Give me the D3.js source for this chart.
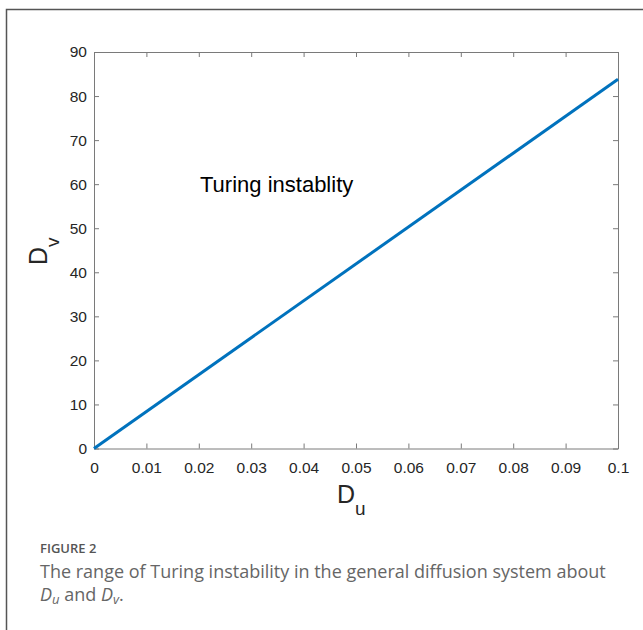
<!DOCTYPE html>
<html>
<head>
<meta charset="utf-8">
<script src="https://cdn.jsdelivr.net/npm/d3@7"></script>
<style>
  body { margin: 0; background: #fff; }
  svg { display: block; }
</style>
</head>
<body>
<div id="chart"></div>
<script>
// boundary of the Turing region, Dv against Du
const du = [0, 0.1];
const dv = [0, 83.8];

const xTicks = [0, 0.01, 0.02, 0.03, 0.04, 0.05, 0.06, 0.07, 0.08, 0.09, 0.1];
const yTicks = [0, 10, 20, 30, 40, 50, 60, 70, 80, 90];

const width = 643, height = 630,
      margin = ({top: 52, right: 25, bottom: 181.5, left: 94});

const axisFont = "Liberation Sans, Arial, sans-serif";

let svg = d3.select("#chart")
    .append("svg")
    .attr("width", width)
    .attr("height", height);

// figure frame (only left and top edges show)
svg.append("path")
    .attr("d", `M6.5,${height} V9.5 H${width}`)
    .attr("fill", "none")
    .attr("stroke", "#555")
    .attr("stroke-width", 1.5);

let x = d3.scaleLinear()
    .domain([0, 0.1])
    .range([margin.left, width - margin.right]);

let y = d3.scaleLinear()
    .domain([0, 90])
    .range([height - margin.bottom, margin.top]);

const fmtX = d => d === 0 ? "0" : d3.format("~g")(d);

const styleAxis = g => {
    g.attr("font-family", axisFont).attr("font-size", 15.5);
    g.select(".domain").attr("stroke", "#7a7a7a");
    g.selectAll(".tick line").attr("stroke", "#7a7a7a");
    g.selectAll("text").attr("fill", "#262626");
};

// bottom
svg.append("g")
    .attr("transform", `translate(0,${y(0)})`)
    .call(d3.axisBottom(x).tickValues(xTicks).tickFormat(fmtX).tickSizeInner(-5).tickSizeOuter(0).tickPadding(13))
    .call(styleAxis);

// left
svg.append("g")
    .attr("transform", `translate(${x(0)},0)`)
    .call(d3.axisLeft(y).tickValues(yTicks).tickSizeInner(-5).tickSizeOuter(0).tickPadding(7))
    .call(styleAxis);

// top
svg.append("g")
    .attr("transform", `translate(0,${y(90)})`)
    .call(d3.axisTop(x).tickValues(xTicks).tickFormat("").tickSizeInner(-5).tickSizeOuter(0))
    .call(styleAxis);

// right
svg.append("g")
    .attr("transform", `translate(${x(0.1)},0)`)
    .call(d3.axisRight(y).tickValues(yTicks).tickFormat("").tickSizeInner(-5).tickSizeOuter(0))
    .call(styleAxis);

// the line
svg.append("path")
    .datum(du.map((d, i) => [d, dv[i]]))
    .attr("fill", "none")
    .attr("stroke", "#0072bd")
    .attr("stroke-width", 3)
    .attr("d", d3.line().x(d => x(d[0])).y(d => y(d[1])));

// annotation
svg.append("text")
    .attr("x", 200)
    .attr("y", 192)
    .attr("font-family", axisFont)
    .attr("font-size", 22)
    .attr("fill", "#000")
    .text("Turing instablity");

// axis labels
let xl = svg.append("text")
    .attr("x", 337)
    .attr("y", 503)
    .attr("font-family", axisFont)
    .attr("font-size", 25)
    .attr("fill", "#262626");
xl.append("tspan").text("D");
xl.append("tspan").attr("dy", 12).attr("font-size", 19).text("u");

let yl = svg.append("text")
    .attr("transform", "translate(47,265) rotate(-90)")
    .attr("font-family", axisFont)
    .attr("font-size", 25)
    .attr("fill", "#262626");
yl.append("tspan").text("D");
yl.append("tspan").attr("dy", 12).attr("font-size", 19).text("v");

// caption
svg.append("text")
    .attr("x", 40)
    .attr("y", 553)
    .attr("font-family", "Open Sans, sans-serif")
    .attr("font-size", 13)
    .attr("font-weight", 600)
    .attr("fill", "#555")
    .text("FIGURE 2");

svg.append("text")
    .attr("x", 40)
    .attr("y", 578)
    .attr("font-family", "Open Sans, sans-serif")
    .attr("font-size", 18)
    .attr("fill", "#666")
    .text("The range of Turing instability in the general diffusion system about");

let cap = svg.append("text")
    .attr("x", 40)
    .attr("y", 601)
    .attr("font-family", "Open Sans, sans-serif")
    .attr("font-size", 18)
    .attr("fill", "#666");
cap.append("tspan").attr("font-style", "italic").text("D");
cap.append("tspan").attr("font-style", "italic").attr("font-size", 13).attr("dy", 3).text("u");
cap.append("tspan").attr("dy", -3).text(" and ");
cap.append("tspan").attr("font-style", "italic").text("D");
cap.append("tspan").attr("font-style", "italic").attr("font-size", 13).attr("dy", 3).text("v");
cap.append("tspan").attr("dy", -3).text(".");
</script>
</body>
</html>
